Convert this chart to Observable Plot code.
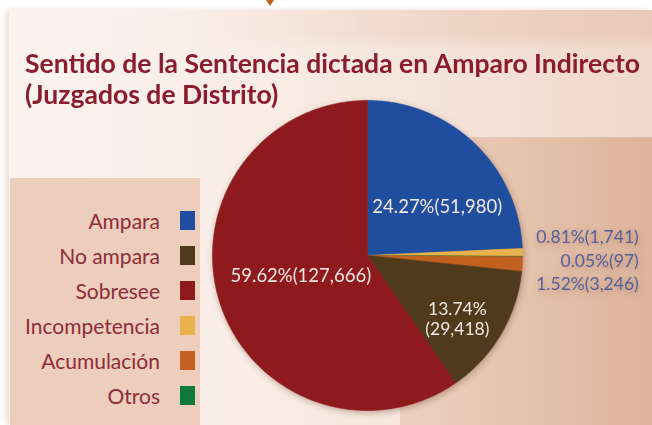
<!DOCTYPE html>
<html>
<head>
<meta charset="utf-8">
<script src="https://cdn.jsdelivr.net/npm/d3@7"></script>
<script src="https://cdn.jsdelivr.net/npm/@observablehq/plot@0.6"></script>
<style>
  html, body { margin: 0; padding: 0; background: #ffffff; }
  #page { position: relative; width: 652px; height: 425px; overflow: hidden; background: #fff; font-family: Lato, "Open Sans", sans-serif; }
  #panel { position: absolute; left: 9px; top: 10px; width: 643px; height: 415px;
    background: linear-gradient(to right, #fcf3ef 0%, #f8ebe4 45%, #f0d8ca 100%);
    box-shadow: -3px 0 6px rgba(220,190,170,0.5); }
  #topband { position: absolute; left: 9px; top: 10px; width: 643px; height: 40px;
    background: linear-gradient(to right, rgba(252,243,239,0) 30%, rgba(234,200,182,0.9) 100%);
    -webkit-mask-image: linear-gradient(to bottom, #000 60%, transparent 100%); }
  #rightbox { position: absolute; left: 400px; top: 137px; width: 252px; height: 288px;
    background: linear-gradient(to right, #ecd1c1 0%, #e5c2ac 50%, #deb49b 100%); }
  #legendbox { position: absolute; left: 10px; top: 178px; width: 190px; height: 247px;
    background: #edcdbb; }
  #arrow { position: absolute; left: 266px; top: 0px; width: 0; height: 0;
    border-left: 4px solid transparent; border-right: 4px solid transparent; border-top: 6px solid #c0601f; }
  #title { position: absolute; left: 25px; top: 47px; color: #8a1c2c; font-weight: 700; font-size: 27.5px; line-height: 31px; white-space: nowrap; transform-origin: 0 0; }
  .lg { position: absolute; height: 20px; }
  .lg span.t { position: absolute; right: 0; top: 50%; transform: translateY(-50%); color: #8e2c3a; font-size: 21px; white-space: nowrap; }
  #chart { position: absolute; left: 0; top: 0; }
</style>
</head>
<body>
<div id="page">
  <div id="panel"></div>
  <div id="topband"></div>
  <div id="rightbox"></div>
  <div id="legendbox"></div>
  <div id="arrow"></div>
  <div id="title"><div id="t1">Sentido de la Sentencia dictada en Amparo Indirecto</div><div id="t2">(Juzgados de Distrito)</div></div>
  <div id="legend"></div>
  <div id="chart"></div>
</div>
<script>
// ---- Data ----
const categories = ["Ampara", "No ampara", "Sobresee", "Incompetencia", "Acumulación", "Otros"];
const counts = [51980, 29418, 127666, 1741, 3246, 97];
const percents = [24.27, 13.74, 59.62, 0.81, 1.52, 0.05];
const colors = ["#1f4e9f", "#4f3b1c", "#8f1a1d", "#e9b04c", "#c2611f", "#0d7a3c"];
// order of slices, clockwise from 12 o'clock
const pieOrder = ["Ampara", "Incompetencia", "Otros", "Acumulación", "No ampara", "Sobresee"];

// ---- Layout (pie centre / radius in px, label anchors in radius units) ----
const W = 652, H = 425, CX = 367, CY = 255, R = 155;
const insideLabels = [
  {cat: "Ampara", x: 0.45, y: 0.31},
  {cat: "Sobresee", x: -0.43, y: -0.13}
];
const splitLabels = [
  {cat: "No ampara", x: 0.58, y: -0.35, part: 0},
  {cat: "No ampara", x: 0.58, y: -0.475, part: 1}
];
const outsideLabels = [
  {cat: "Incompetencia", x: 1.75, y: 0.116},
  {cat: "Otros", x: 1.75, y: -0.039},
  {cat: "Acumulación", x: 1.75, y: -0.187}
];

const fmt = d3.format(",");
const pctText = cat => percents[categories.indexOf(cat)].toFixed(2) + "%";
const cntText = cat => "(" + fmt(counts[categories.indexOf(cat)]) + ")";
const labelText = cat => pctText(cat) + cntText(cat);

// wedge polygons derived from the counts
const total = d3.sum(counts);
let acc = 0;
const wedgePts = [];
for (const cat of pieOrder) {
  const i = categories.indexOf(cat);
  const a0 = acc / total * 2 * Math.PI;
  acc += counts[i];
  const a1 = acc / total * 2 * Math.PI;
  const n = Math.max(2, Math.ceil((a1 - a0) / (Math.PI / 360)));
  wedgePts.push({cat, x: 0, y: 0});
  for (let k = 0; k <= n; k++) {
    const a = a0 + (a1 - a0) * k / n;
    wedgePts.push({cat, x: Math.sin(a), y: Math.cos(a)});
  }
  wedgePts.push({cat, x: 0, y: 0});
}

const chart = Plot.plot({
  width: W, height: H,
  margin: 0,
  style: {background: "transparent", overflow: "visible"},
  x: {domain: [-CX / R, (W - CX) / R], axis: null},
  y: {domain: [-(H - CY) / R, CY / R], axis: null},
  color: {domain: categories, range: colors},
  marks: [
    Plot.line(wedgePts, {x: "x", y: "y", z: "cat", fill: "cat", stroke: "cat", strokeWidth: 0.6, curve: "linear"}),
    Plot.text(insideLabels, {x: "x", y: "y", text: d => labelText(d.cat),
      fill: "#f4e8e4", fontSize: 18.5, fontFamily: "Lato", textAnchor: "middle"}),
    Plot.text(splitLabels, {x: "x", y: "y", text: d => d.part === 0 ? pctText(d.cat) : cntText(d.cat),
      fill: "#f4e8e4", fontSize: 17.5, fontFamily: "Lato", textAnchor: "middle"}),
    Plot.text(outsideLabels, {x: "x", y: "y", text: d => labelText(d.cat),
      fill: "#55609c", fontSize: 17.5, fontFamily: "Lato", textAnchor: "end"})
  ]
});
chart.style.filter = "drop-shadow(1px 2px 3px rgba(90,40,20,0.35))";
document.getElementById("chart").appendChild(chart);

// legend
const legend = document.getElementById("legend");
categories.forEach((cat, i) => {
  const yc = 220 + i * 35;
  const row = document.createElement("div");
  row.className = "lg";
  row.style.left = "0px"; row.style.width = "160px"; row.style.top = (yc - 10) + "px";
  const t = document.createElement("span"); t.className = "t"; t.textContent = cat;
  row.appendChild(t);
  legend.appendChild(row);
  const s = document.createElement("span"); s.className = "lg";
  s.style.left = "180px"; s.style.top = (yc - 9) + "px"; s.style.width = "15px"; s.style.height = "19px";
  s.style.background = colors[i];
  legend.appendChild(s);
});

// fit title line 1 width to the reference layout
const t1 = document.getElementById("t1");
const w1 = t1.getBoundingClientRect().width;
document.getElementById("title").style.transform = "scaleX(" + (615 / w1) + ")";
</script>
</body>
</html>
